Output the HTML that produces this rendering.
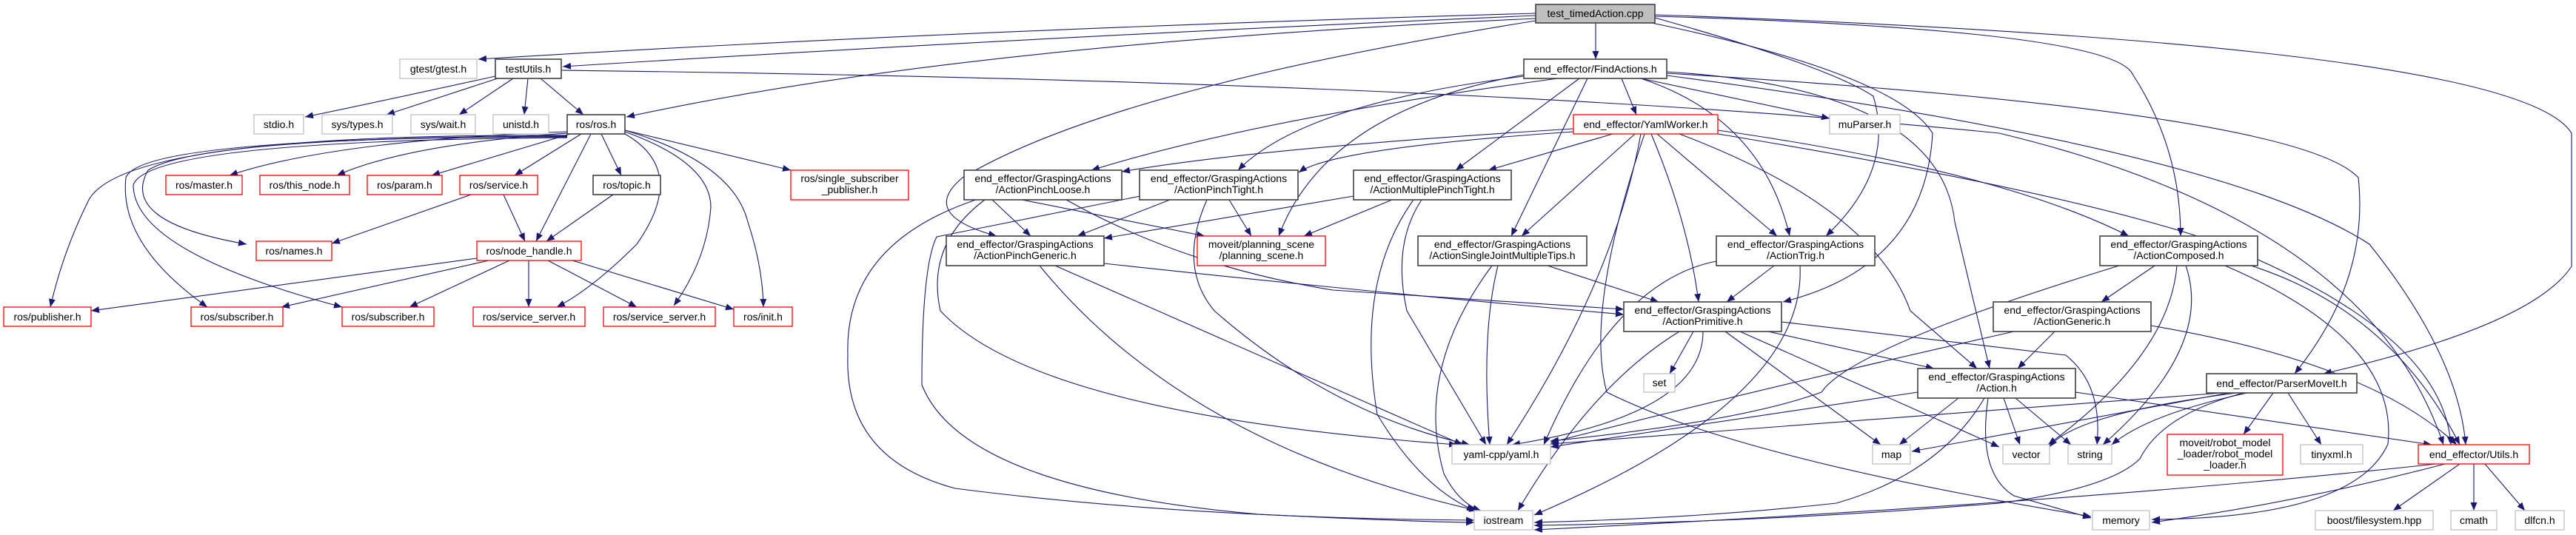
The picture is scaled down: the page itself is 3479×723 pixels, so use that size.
<!DOCTYPE html>
<html><head><meta charset="utf-8"><style>
html,body{margin:0;padding:0;background:#fff;}
svg{display:block;}
text{font-family:"Liberation Sans",Arial,sans-serif;font-size:14px;fill:#000;text-anchor:middle;}
.e{fill:none;stroke:#191970;stroke-width:1.1;marker-end:url(#a);}
.k{fill:#fff;stroke:#404040;stroke-width:1.6;}
.r{fill:#fff;stroke:#ff0000;stroke-width:1.3;}
.g{fill:#fff;stroke:#bfbfbf;stroke-width:1.3;}
</style></head><body>
<svg width="3479" height="723" viewBox="0 0 3479 723" xmlns="http://www.w3.org/2000/svg">
<defs><marker id="a" markerUnits="userSpaceOnUse" markerWidth="12" markerHeight="9" refX="11" refY="4.5" orient="auto"><path d="M0,0 L11,4.5 L0,9 z" fill="#191970"/></marker></defs>
<g>
<!-- test_timedAction edges -->
<path class="e" d="M2155,31 L2155,80"/>
<path class="e" d="M2074,18 Q1300,40 646,80"/>
<path class="e" d="M2074,21 Q1400,50 760,90"/>
<path class="e" d="M2074,25 Q1300,60 846,158"/>
<path class="e" d="M2074,28 Q1500,120 1300,240 Q1240,290 1346,319"/>
<path class="e" d="M2235,24 Q2470,90 2530,130 Q2560,230 2466,319"/>
<path class="e" d="M2231,31 Q2560,100 2610,180 Q2600,360 2408,408"/>
<path class="e" d="M2235,22 Q2850,40 2880,100 Q2945,200 2945,319"/>
<path class="e" d="M2235,20 Q3400,60 3473,180 L3473,360 Q3420,440 3138,505"/>
<!-- testUtils -->
<path class="e" d="M669,103 Q500,140 412,158"/>
<path class="e" d="M672,106 L522,155"/>
<path class="e" d="M693,106 L620,155"/>
<path class="e" d="M713,106 L708,155"/>
<path class="e" d="M730,106 L788,155"/>
<path class="e" d="M758,95 Q2000,110 2700,180 Q3200,300 3300,601"/>
<!-- ros/ros.h -->
<path class="e" d="M766,178 Q450,190 310,237"/>
<path class="e" d="M766,180 Q550,195 455,237"/>
<path class="e" d="M770,181 L583,237"/>
<path class="e" d="M785,181 L695,237"/>
<path class="e" d="M812,181 L839,237"/>
<path class="e" d="M798,181 L724,326"/>
<path class="e" d="M766,184 Q270,185 200,230 Q160,300 333,330"/>
<path class="e" d="M766,183 Q170,180 120,270 Q85,340 68,415"/>
<path class="e" d="M766,185 Q190,185 170,240 Q160,330 280,415"/>
<path class="e" d="M766,186 Q200,190 180,250 Q180,340 462,415"/>
<path class="e" d="M844,181 Q930,230 860,330 Q800,390 752,415"/>
<path class="e" d="M844,178 Q960,220 960,280 Q955,350 910,413"/>
<path class="e" d="M844,176 Q990,220 1010,300 Q1030,360 1031,415"/>
<path class="e" d="M844,176 L1068,230"/>
<path class="e" d="M636,263 L448,329"/>
<path class="e" d="M680,263 L709,326"/>
<path class="e" d="M828,263 L738,326"/>
<!-- node_handle -->
<path class="e" d="M644,349 L123,420"/>
<path class="e" d="M660,352 L380,415"/>
<path class="e" d="M688,352 L553,415"/>
<path class="e" d="M714,352 L714,415"/>
<path class="e" d="M740,352 L860,415"/>
<path class="e" d="M773,352 L991,418"/>
<!-- FindActions -->
<path class="e" d="M2190,106 L2210,155"/>
<path class="e" d="M2216,106 L2471,160"/>
<path class="e" d="M2104,106 Q1700,160 1474,230"/>
<path class="e" d="M2058,103 Q1760,140 1672,230"/>
<path class="e" d="M2133,106 L1966,230"/>
<path class="e" d="M2144,106 L2041,319"/>
<path class="e" d="M2216,106 Q2380,160 2417,319"/>
<path class="e" d="M2251,97 Q2620,120 2640,300 L2687,498"/>
<path class="e" d="M2251,99 Q3100,150 3185,240 Q3200,380 3099,505"/>
<path class="e" d="M2251,102 Q3000,200 3200,330 Q3320,480 3330,601"/>
<path class="e" d="M2058,101 Q1790,150 1727,319"/>
<!-- YamlWorker -->
<path class="e" d="M2125,174 Q1700,200 1515,232"/>
<path class="e" d="M2125,178 Q1800,200 1754,233"/>
<path class="e" d="M2178,181 L2010,230"/>
<path class="e" d="M2208,181 L2055,319"/>
<path class="e" d="M2238,181 L2400,319"/>
<path class="e" d="M2230,181 Q2280,300 2294,408"/>
<path class="e" d="M2216,181 Q2180,380 2035,601"/>
<path class="e" d="M2221,181 Q2140,420 2170,530 Q2350,620 2824,698"/>
<path class="e" d="M2268,181 Q2530,280 2580,420 L2670,498"/>
<path class="e" d="M2320,176 Q2700,230 2875,319"/>
<path class="e" d="M2320,181 Q2800,260 3000,330 Q3300,450 3310,601"/>
<!-- PinchLoose -->
<path class="e" d="M1340,270 L1392,319"/>
<path class="e" d="M1380,270 L1627,319"/>
<path class="e" d="M1440,270 Q1600,360 1800,392 L2193,418"/>
<path class="e" d="M1318,270 Q1140,330 1145,480 Q1140,620 1290,660 Q1600,700 1991,703"/>
<path class="e" d="M1330,270 Q1250,330 1270,420 Q1400,560 1968,601"/>
<!-- PinchTight -->
<path class="e" d="M1580,270 L1455,319"/>
<path class="e" d="M1660,270 L1690,319"/>
<path class="e" d="M1540,265 L1265,320 Q1245,360 1245,520 Q1300,660 1700,695 Q1900,705 1991,706"/>
<path class="e" d="M1630,270 Q1590,360 1640,420 Q1800,560 1985,601"/>
<!-- PinchGeneric -->
<path class="e" d="M1491,356 Q1800,390 2193,425"/>
<path class="e" d="M1425,359 L1975,601"/>
<path class="e" d="M1404,359 Q1600,600 1995,690"/>
<!-- MultiplePinchTight -->
<path class="e" d="M1828,265 L1491,322"/>
<path class="e" d="M1880,270 L1761,319"/>
<path class="e" d="M1920,270 Q1880,330 1900,420 L2007,601"/>
<path class="e" d="M1909,270 Q1830,380 1860,560 Q1920,660 1992,690"/>
<!-- SingleJoint -->
<path class="e" d="M2090,359 L2240,408"/>
<path class="e" d="M2023,359 Q2000,450 2012,601"/>
<path class="e" d="M2015,359 Q1910,500 1950,640 Q1970,680 2000,690"/>
<!-- Trig -->
<path class="e" d="M2396,359 L2332,408"/>
<path class="e" d="M2318,353 Q2180,380 2085,601"/>
<path class="e" d="M2431,359 Q2440,540 2072,696"/>
<!-- Primitive -->
<path class="e" d="M2287,448 L2255,505"/>
<path class="e" d="M2300,448 Q2300,560 2042,601"/>
<path class="e" d="M2268,448 Q2150,520 2050,690"/>
<path class="e" d="M2330,448 L2540,601"/>
<path class="e" d="M2388,448 L2612,498"/>
<path class="e" d="M2350,448 L2700,604"/>
<path class="e" d="M2406,435 Q2700,470 2790,480 Q2840,520 2832,601"/>
<!-- Action.h -->
<path class="e" d="M2590,530 L2094,604"/>
<path class="e" d="M2645,538 L2565,601"/>
<path class="e" d="M2706,538 L2728,601"/>
<path class="e" d="M2722,538 L2797,601"/>
<path class="e" d="M2685,538 Q2670,640 2720,670 L2824,700"/>
<path class="e" d="M2680,538 Q2620,640 2480,680 Q2300,700 2072,706"/>
<path class="e" d="M2803,530 L3284,601"/>
<!-- Generic -->
<path class="e" d="M2775,448 L2725,498"/>
<path class="e" d="M2720,448 Q2400,520 2094,598"/>
<path class="e" d="M2905,440 Q3200,490 3318,601"/>
<!-- Composed -->
<path class="e" d="M2910,359 L2838,408"/>
<path class="e" d="M2862,359 Q2500,470 2460,530 Q2350,570 2094,596"/>
<path class="e" d="M2940,359 Q2930,480 2766,601"/>
<path class="e" d="M2952,359 Q2990,470 2840,601"/>
<path class="e" d="M3005,359 Q3240,460 3225,600 Q3180,700 2906,702"/>
<path class="e" d="M3040,359 Q3230,420 3322,601"/>
<!-- ParserMoveIt -->
<path class="e" d="M3020,531 Q2800,560 2768,604"/>
<path class="e" d="M3035,531 Q2900,560 2852,601"/>
<path class="e" d="M3010,531 L2582,610"/>
<path class="e" d="M3000,531 L2094,600"/>
<path class="e" d="M3070,531 L3030,587"/>
<path class="e" d="M3090,531 L3135,601"/>
<path class="e" d="M3030,531 Q2920,560 2890,620 Q2850,660 2700,680 Q2400,705 2072,710"/>
<!-- Utils -->
<path class="e" d="M3290,627 Q2800,680 2072,716"/>
<path class="e" d="M3302,627 Q3100,680 2906,706"/>
<path class="e" d="M3322,627 L3232,690"/>
<path class="e" d="M3341,627 L3341,690"/>
<path class="e" d="M3356,627 L3410,690"/>
</g>
<g>
<rect class="k" x="2074" y="6" width="161" height="25" style="fill:#bfbfbf"/><text x="2154.5" y="23">test_timedAction.cpp</text>
<rect class="g" x="540" y="80" width="104" height="26"/><text x="592" y="98">gtest/gtest.h</text>
<rect class="k" x="669" y="80" width="89" height="26"/><text x="713.5" y="98">testUtils.h</text>
<rect class="g" x="343" y="155" width="67" height="26"/><text x="376.5" y="173">stdio.h</text>
<rect class="g" x="435" y="155" width="95" height="26"/><text x="482.5" y="173">sys/types.h</text>
<rect class="g" x="555" y="155" width="87" height="26"/><text x="598.5" y="173">sys/wait.h</text>
<rect class="g" x="666" y="155" width="75" height="26"/><text x="703.5" y="173">unistd.h</text>
<rect class="k" x="766" y="155" width="78" height="26"/><text x="805" y="173">ros/ros.h</text>
<rect class="r" x="224" y="237" width="103" height="26"/><text x="275.5" y="255">ros/master.h</text>
<rect class="r" x="351" y="237" width="121" height="26"/><text x="411.5" y="255">ros/this_node.h</text>
<rect class="r" x="496" y="237" width="101" height="26"/><text x="546.5" y="255">ros/param.h</text>
<rect class="r" x="621" y="237" width="105" height="26"/><text x="673.5" y="255">ros/service.h</text>
<rect class="k" x="801" y="237" width="91" height="26"/><text x="846.5" y="255">ros/topic.h</text>
<rect class="r" x="346" y="326" width="102" height="26"/><text x="397" y="344">ros/names.h</text>
<rect class="r" x="644" y="326" width="141" height="26"/><text x="714.5" y="344">ros/node_handle.h</text>
<rect class="r" x="5" y="415" width="118" height="26"/><text x="64" y="433">ros/publisher.h</text>
<rect class="r" x="258" y="415" width="124" height="26"/><text x="320" y="433">ros/subscriber.h</text>
<rect class="r" x="462" y="415" width="124" height="26"/><text x="524" y="433">ros/subscriber.h</text>
<rect class="r" x="639" y="415" width="151" height="26"/><text x="714.5" y="433">ros/service_server.h</text>
<rect class="r" x="815" y="415" width="151" height="26"/><text x="890.5" y="433">ros/service_server.h</text>
<rect class="r" x="991" y="415" width="79" height="26"/><text x="1030.5" y="433">ros/init.h</text>
<rect class="r" x="1068" y="230" width="159" height="40"/><text x="1147.5" y="246">ros/single_subscriber</text><text x="1147.5" y="261">_publisher.h</text>
<rect class="k" x="1302" y="230" width="213" height="40"/><text x="1408.5" y="246">end_effector/GraspingActions</text><text x="1408.5" y="261">/ActionPinchLoose.h</text>
<rect class="k" x="1539" y="230" width="214" height="40"/><text x="1646" y="246">end_effector/GraspingActions</text><text x="1646" y="261">/ActionPinchTight.h</text>
<rect class="k" x="1278" y="319" width="213" height="40"/><text x="1384.5" y="335">end_effector/GraspingActions</text><text x="1384.5" y="350">/ActionPinchGeneric.h</text>
<rect class="r" x="1617" y="319" width="173" height="40"/><text x="1703.5" y="335">moveit/planning_scene</text><text x="1703.5" y="350">/planning_scene.h</text>
<rect class="k" x="2058" y="80" width="193" height="26"/><text x="2154.5" y="98">end_effector/FindActions.h</text>
<rect class="r" x="2125" y="155" width="195" height="26"/><text x="2222.5" y="173">end_effector/YamlWorker.h</text>
<rect class="g" x="2471" y="155" width="95" height="26"/><text x="2518.5" y="173">muParser.h</text>
<rect class="k" x="1828" y="230" width="213" height="40"/><text x="1934.5" y="246">end_effector/GraspingActions</text><text x="1934.5" y="261">/ActionMultiplePinchTight.h</text>
<rect class="k" x="1915" y="319" width="228" height="40"/><text x="2029" y="335">end_effector/GraspingActions</text><text x="2029" y="350">/ActionSingleJointMultipleTips.h</text>
<rect class="k" x="2318" y="319" width="214" height="40"/><text x="2425" y="335">end_effector/GraspingActions</text><text x="2425" y="350">/ActionTrig.h</text>
<rect class="k" x="2193" y="408" width="213" height="40"/><text x="2299.5" y="424">end_effector/GraspingActions</text><text x="2299.5" y="439">/ActionPrimitive.h</text>
<rect class="g" x="2220" y="505" width="42" height="25"/><text x="2241" y="522">set</text>
<rect class="k" x="2590" y="498" width="213" height="40"/><text x="2696.5" y="514">end_effector/GraspingActions</text><text x="2696.5" y="529">/Action.h</text>
<rect class="g" x="1961" y="601" width="133" height="26"/><text x="2027.5" y="619">yaml-cpp/yaml.h</text>
<rect class="g" x="2529" y="601" width="51" height="26"/><text x="2554.5" y="619">map</text>
<rect class="g" x="1991" y="690" width="79" height="26"/><text x="2030.5" y="708">iostream</text>
<rect class="k" x="2836" y="319" width="213" height="40"/><text x="2942.5" y="335">end_effector/GraspingActions</text><text x="2942.5" y="350">/ActionComposed.h</text>
<rect class="k" x="2692" y="408" width="213" height="40"/><text x="2798.5" y="424">end_effector/GraspingActions</text><text x="2798.5" y="439">/ActionGeneric.h</text>
<rect class="k" x="2980" y="505" width="203" height="26"/><text x="3081.5" y="523">end_effector/ParserMoveIt.h</text>
<rect class="g" x="2705" y="601" width="63" height="26"/><text x="2736.5" y="619">vector</text>
<rect class="g" x="2793" y="601" width="59" height="26"/><text x="2822.5" y="619">string</text>
<rect class="r" x="2927" y="587" width="156" height="55"/><text x="3005" y="603">moveit/robot_model</text><text x="3005" y="618">_loader/robot_model</text><text x="3005" y="633">_loader.h</text>
<rect class="g" x="3107" y="601" width="84" height="26"/><text x="3149" y="619">tinyxml.h</text>
<rect class="r" x="3266" y="601" width="150" height="26"/><text x="3341" y="619">end_effector/Utils.h</text>
<rect class="g" x="2826" y="690" width="77" height="26"/><text x="2864.5" y="708">memory</text>
<rect class="g" x="3127" y="690" width="159" height="26"/><text x="3206.5" y="708">boost/filesystem.hpp</text>
<rect class="g" x="3310" y="690" width="62" height="26"/><text x="3341" y="708">cmath</text>
<rect class="g" x="3397" y="690" width="66" height="26"/><text x="3430" y="708">dlfcn.h</text>
</g>
</svg>
</body></html>
